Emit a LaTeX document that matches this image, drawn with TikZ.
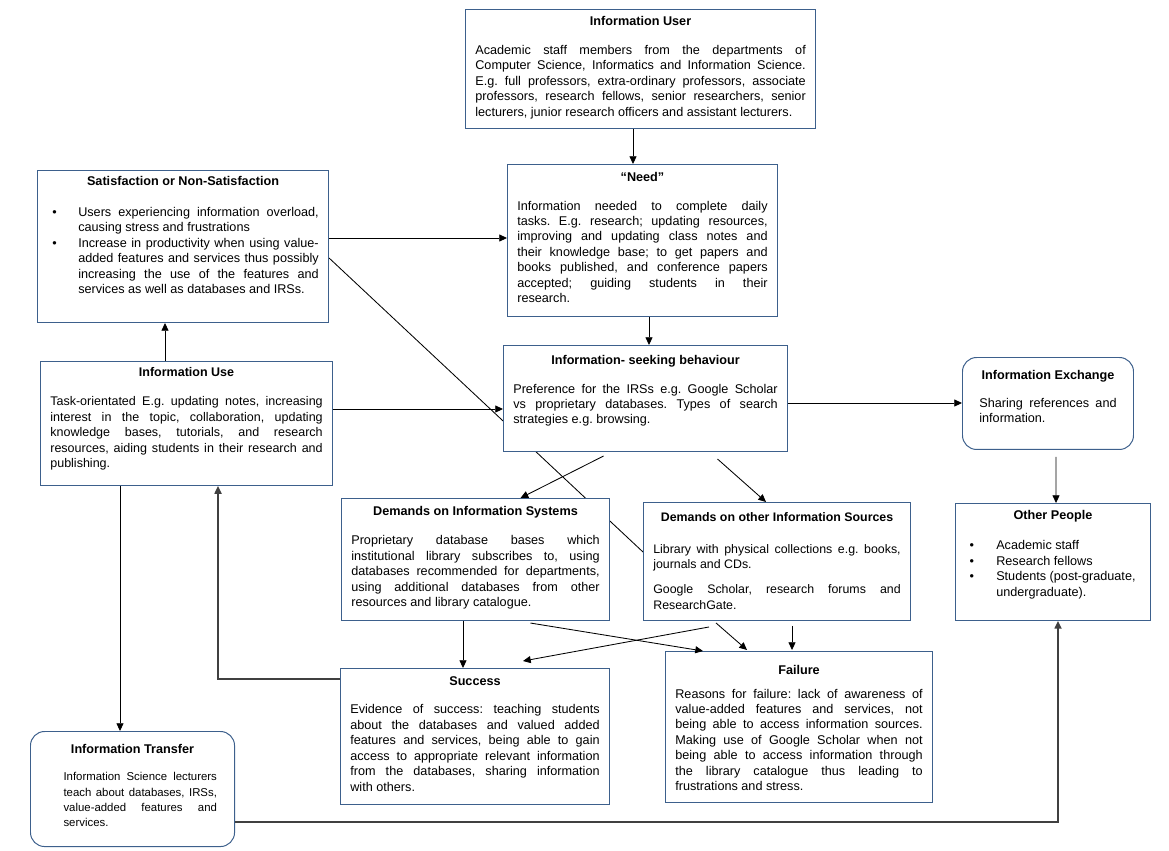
\documentclass[tikz,border=0pt]{standalone}
\usepackage{fontspec}
\setmainfont{Liberation Sans}
\usetikzlibrary{arrows.meta, backgrounds}
\definecolor{boxblue}{RGB}{61,96,140}
\tolerance=10000
\hbadness=10000
\hfuzz=2pt
\hyphenpenalty=10000
\exhyphenpenalty=10000
\frenchspacing

\begin{document}
\begin{tikzpicture}[x=0.025cm, y=-0.025cm,
    box/.style={rectangle, draw=boxblue, fill=white, anchor=north west, line width=0.7pt,
      inner xsep=7pt, inner ysep=5pt, align=justify, font=\fontsize{9}{11}\selectfont},
    rbox/.style={box, rounded corners=10pt},
    arr/.style={-{Triangle[length=5.5pt, width=5pt]}, line width=0.6pt},
    elbow/.style={arr, draw=black!75, line width=1.1pt}]

    % boxes
    \node[box, text width=235pt, text height=6.5pt, text depth=68.2pt] (user) at (465,9)
      {\hfill\textbf{Information User}\hfill\null\par\vspace{9.5pt}
       Academic staff members from the departments of\linebreak
       Computer Science, Informatics and Information Science.\linebreak
       E.g. full professors, extra-ordinary professors, associate\linebreak
       professors, research fellows, senior researchers, senior\linebreak
       lecturers, junior research officers and assistant lecturers.\par};
    \node[box, text width=178pt, text height=7.4pt, text depth=90.7pt] (need) at (507,164)
      {\hfill\textbf{“Need”}\hfill\null\par\vspace{9pt}
       Information needed to complete daily\linebreak
       tasks. E.g. research; updating resources,\linebreak
       improving and updating class notes and\linebreak
       their knowledge base; to get papers and\linebreak
       books published, and conference papers\linebreak
       accepted; guiding students in their\linebreak
       research.\par};
    \node[box, text width=193pt, text height=5.5pt, text depth=92.6pt] (sat) at (37,170)
      {\hfill\textbf{Satisfaction or Non-Satisfaction}\hfill\null\par\vspace{11pt}
       \noindent\hangindent=22pt\hangafter=1\hbox to 22pt{\hspace{3.5pt}\textbullet\hfil}Users experiencing information overload,\linebreak
       causing stress and frustrations\par
       \noindent\hangindent=22pt\hangafter=1\hbox to 22pt{\hspace{3.5pt}\textbullet\hfil}Increase in productivity when using value-\linebreak
       added features and services thus possibly\linebreak
       increasing the use of the features and\linebreak
       services as well as databases and IRSs.\par};
    \node[box, text width=193.7pt, text height=6pt, text depth=72.2pt, font=\fontsize{8.9}{11}\selectfont] (use) at (40,361)
      {\hfill\textbf{Information Use}\hfill\null\par\vspace{9.6pt}
       Task-orientated E.g. updating notes, increasing\linebreak
       interest in the topic, collaboration, updating\linebreak
       knowledge bases, tutorials, and research\linebreak
       resources, aiding students in their research and\linebreak
       publishing.\par};
    \node[box, text width=188pt, text height=8.2pt, text depth=57.2pt] (seek) at (503,345)
      {\hfill\textbf{Information- seeking behaviour}\hfill\null\par\vspace{9.6pt}
       Preference for the IRSs e.g. Google Scholar\linebreak
       vs proprietary databases. Types of search\linebreak
       strategies e.g. browsing.\par};
    \node[rbox, inner xsep=12pt, text width=97.6pt, text height=10.3pt, text depth=45.1pt] (exch) at (962,357)
      {\hfill\textbf{Information Exchange}\hfill\null\par\vspace{8.9pt}
       Sharing references and\linebreak
       information.\par};
    \node[box, text width=176.6pt, text height=7.4pt, text depth=69.4pt] (dis) at (341,498)
      {\hfill\textbf{Demands on Information Systems}\hfill\null\par\vspace{9.6pt}
       Proprietary database bases which\linebreak
       institutional library subscribes to, using\linebreak
       databases recommended for departments,\linebreak
       using additional databases from other\linebreak
       resources and library catalogue.\par};
    \node[box, text width=175.9pt, text height=8.2pt, text depth=65.7pt, font=\fontsize{8.8}{11}\selectfont] (dother) at (643,502)
      {\hfill\textbf{Demands on other Information Sources}\hfill\null\par\vspace{11.8pt}
       Library with physical collections e.g. books,\linebreak
       journals and CDs.\par\vspace{6.8pt}
       Google Scholar, research forums and\linebreak
       ResearchGate.\par};
    \node[box, text width=124.7pt, text height=6.7pt, text depth=66.5pt] (other) at (955,503)
      {\hfill\textbf{Other People}\hfill\null\par\vspace{10.3pt}
       \raggedright
       \noindent\hangindent=22pt\hangafter=1\hbox to 22pt{\hspace{3pt}\textbullet\hfil}Academic staff\par
       \noindent\hangindent=22pt\hangafter=1\hbox to 22pt{\hspace{3pt}\textbullet\hfil}Research fellows\par
       \noindent\hangindent=22pt\hangafter=1\hbox to 22pt{\hspace{3pt}\textbullet\hfil}Students (post-graduate,\linebreak
       undergraduate).\par};
    \node[box, text width=177.3pt, text height=7.4pt, text depth=79.3pt] (succ) at (340,668)
      {\hfill\textbf{Success}\hfill\null\par\vspace{8.9pt}
       Evidence of success: teaching students\linebreak
       about the databases and valued added\linebreak
       features and services, being able to gain\linebreak
       access to appropriate relevant information\linebreak
       from the databases, sharing information\linebreak
       with others.\par};
    \node[box, text width=175.9pt, text height=11pt, text depth=86.4pt] (fail) at (665,651)
      {\hfill\textbf{Failure}\hfill\null\par\vspace{6.1pt}
       Reasons for failure: lack of awareness of\linebreak
       value-added features and services, not\linebreak
       being able to access information sources.\linebreak
       Making use of Google Scholar when not\linebreak
       being able to access information through\linebreak
       the library catalogue thus leading to\linebreak
       frustrations and stress.\par};
    \node[rbox, text width=131.1pt, text height=10.3pt, text depth=61.5pt] (trans) at (30,731)
      {\hfill\textbf{Information Transfer}\hfill\null\par\vspace{8.9pt}
       \fontsize{8.1}{10.9}\selectfont\leftskip=16.5pt\rightskip=5.5pt
       Information Science lecturers\linebreak
       teach about databases, IRSs,\linebreak
       value-added features and\linebreak
       services.\par};

    % line running behind the boxes
    \begin{scope}[on background layer]
      \fill[white] (0,0) rectangle (1169,850);
      \draw[line width=0.6pt] (sat.east |- 0,258) -- (dother.west |- 0,552);
    \end{scope}
    \useasboundingbox (0,0) rectangle (1169,850);

    % arrows
    \draw[arr] (user.south -| 633,0) -- (need.north -| 633,0);
    \draw[arr] (need.south -| 649,0) -- (seek.north -| 649,0);
    \draw[arr] (sat.east |- 0,238) -- (need.west |- 0,238);
    \draw[arr] (use.north -| 165,0) -- (sat.south -| 165,0);
    \draw[arr] (use.east |- 0,409) -- (seek.west |- 0,409);
    \draw[arr] (seek.east |- 0,403) -- (exch.west |- 0,403);
    \draw[arr] ([shift={(-42,4)}]seek.south) -- ([shift={(45,0)}]dis.north);
    \draw[arr] ([shift={(72,7)}]seek.south) -- ([shift={(-11,0)}]dother.north);
    \draw[arr] ([shift={(8,7)}]exch.south) -- ([shift={(3,0)}]other.north);
    \draw[arr] (use.south -| 120,0) -- (trans.north -| 120,0);
    \draw[arr] (dis.south -| 463,0) -- (succ.north -| 463,0);
    \draw[arr] ([shift={(55,2)}]dis.south) -- ([shift={(-96,0)}]fail.north);
    \draw[arr] ([shift={(-68,6)}]dother.south) -- ([shift={(48,-7)}]succ.north);
    \draw[arr] ([shift={(-61,2)}]dother.south) -- ([shift={(-52,-1)}]fail.north);
    \draw[arr] ([shift={(15,5)}]dother.south) -- ([shift={(-7,-1)}]fail.north);
    \draw[elbow] (succ.west |- 0,679) -| (use.south -| 218,0);
    \draw[elbow] (trans.east |- 0,822) -| (other.south -| 1058,0);
\end{tikzpicture}
\end{document}
